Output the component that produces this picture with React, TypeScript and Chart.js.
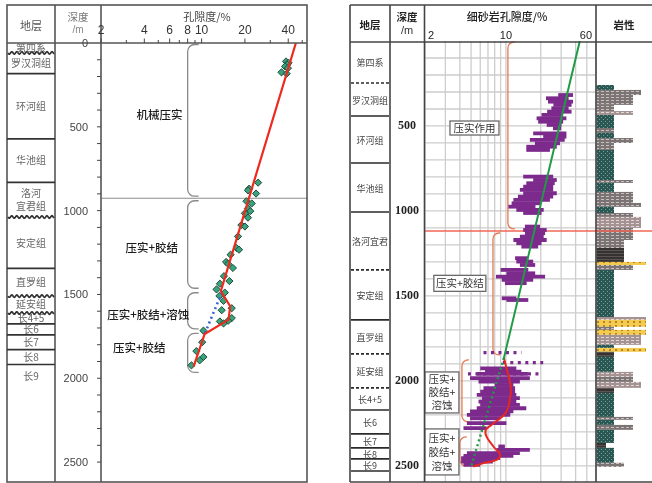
import React, { useEffect, useRef } from 'react';
import { Chart, registerables } from 'chart.js';

Chart.register(...registerables);

const CJK = '"Noto Sans CJK SC", "Noto Sans", sans-serif';
const SANS = '"Liberation Sans", Arial, sans-serif';
const SERIF = '"Liberation Serif", "Times New Roman", serif';

// ================= LEFT PANEL DATA =================
const leftFormationNames = ['第四系', '罗汉洞组', '环河组', '华池组', '洛河\n宜君组', '安定组', '直罗组', '延安组', '长4+5', '长6', '长7', '长8', '长9'];
const leftFormationBase = [59, 183, 572, 832, 1038, 1345, 1510, 1611, 1676, 1741, 1829, 1918, 2595];
const leftBoundaryStyle = ['wavy', 'solid', 'solid', 'solid', 'wavy', 'solid', 'wavy', 'wavy', 'solid', 'solid', 'solid', 'solid', 'none'];
const leftPorTicks = [2, 3, 4, 5, 6, 7, 8, 9, 10, 20, 30, 40, 50];
const leftPorLabels = [2, 4, 6, 8, 10, 20, 40];
const leftDepthLabels = [0, 500, 1000, 1500, 2000, 2500];
const leftSampleDepth = [110, 118, 130, 140, 150, 175, 183, 833, 869, 879, 898, 944, 957, 987, 1003, 1016, 1042, 1086, 1095, 1154, 1223, 1233, 1263, 1306, 1318, 1342, 1391, 1420, 1436, 1470, 1489, 1509, 1538, 1582, 1594, 1641, 1657, 1661, 1673, 1716, 1785, 1838, 1873, 1893, 1923];
const leftSamplePor = [38.6, 40.2, 39.4, 38.0, 39.8, 35.9, 39.0, 24.7, 21.4, 21.0, 23.9, 20.5, 22.3, 21.0, 21.8, 20.0, 21.0, 18.9, 20.0, 17.9, 17.5, 18.2, 15.9, 14.8, 15.3, 16.5, 14.3, 15.6, 13.4, 12.7, 14.5, 13.3, 14.2, 16.2, 13.8, 16.2, 15.3, 13.4, 14.2, 10.3, 10.1, 9.2, 10.3, 9.7, 8.5];
const leftTrendDepth = [0, 1480, 1570, 1650, 1736, 1930];
const leftTrendPor = [45.2, 13.6, 15.8, 15.4, 10.5, 8.8];
const leftCompactDepth = [1490, 1736];
const leftCompactPor = [13.8, 10.5];
const leftZoneTop = [0, 932, 1481, 1723];
const leftZoneBase = [920, 1469, 1711, 1971];
const leftZoneNames = ['机械压实', '压实+胶结', '压实+胶结+溶蚀', '压实+胶结'];
const leftDividerDepth = 926;

// ================= RIGHT PANEL DATA =================
const rightFormationNames = ['第四系', '罗汉洞组', '环河组', '华池组', '洛河宜君', '安定组', '直罗组', '延安组', '长4+5', '长6', '长7', '长8', '长9'];
const rightFormationBase = [247, 441, 718, 1006, 1347, 1641, 1841, 2041, 2171, 2312, 2394, 2459, 2530];
const rightBoundaryStyle = ['dashed', 'solid', 'solid', 'solid', 'dashed', 'solid', 'dashed', 'dashed', 'solid', 'solid', 'solid', 'solid', 'solid'];
const rightGridPor = [2, 3, 4, 5, 6, 7, 8, 9, 10, 20, 30, 40, 50, 60];
const rightPorLabels = [2, 10, 60];
const rightDepthLabels = [500, 1000, 1500, 2000, 2500];

const sandDepth = [318, 337, 357, 376, 396, 416, 435, 455, 475, 494, 514, 543, 563, 582, 602, 622, 641,
  798, 818, 837, 857, 876, 896, 916, 935, 955, 975, 994, 1012,
  1092, 1112, 1131, 1151, 1171, 1190, 1210,
  1278, 1298, 1318, 1347, 1367, 1386, 1406, 1425, 1514, 1524,
  1926, 1945, 1959, 1984, 2004, 2024, 2043, 2063, 2082, 2102, 2122, 2141, 2161, 2180, 2200, 2220, 2249, 2278,
  2386, 2406, 2425, 2441, 2455, 2475, 2494];
const sandMin = [28.3, 22.2, 23.1, 25.7, 24.7, 22.7, 20.3, 18.4, 19.0, 22.5, 25.5, 17.2, 21.0, 16.1, 17.8, 15.0, 15.0,
  14.1, 17.2, 15.0, 14.1, 13.2, 14.1, 12.7, 11.6, 11.2, 10.5, 12.3, 14.1,
  14.6, 14.1, 14.6, 13.2, 11.6, 12.3, 13.6,
  12.0, 12.3, 13.2, 9.0, 10.1, 8.2, 9.2, 9.8, 9.2, 10.1,
  6.0, 6.6, 5.6, 4.9, 5.8, 8.0, 6.4, 6.0, 5.6, 6.2, 5.8, 6.0, 5.6, 4.9, 4.6, 4.9, 4.6, 4.3,
  8.6, 8.3, 4.6, 4.3, 4.1, 4.1, 4.3];
const sandMax = [38.0, 34.8, 38.0, 36.9, 34.8, 36.9, 31.2, 33.3, 31.2, 30.2, 30.0, 33.3, 33.3, 32.2, 29.3, 27.5, 24.0,
  25.6, 27.5, 26.4, 25.6, 25.6, 27.5, 25.6, 24.0, 19.7, 18.0, 21.2, 20.3,
  19.7, 22.5, 21.8, 21.2, 22.5, 20.3, 19.0,
  15.6, 17.2, 17.9, 15.6, 17.9, 21.8, 17.2, 15.1, 12.3, 15.6,
  12.3, 13.6, 15.5, 16.1, 13.2, 11.6, 12.0, 12.0, 12.3, 13.2, 12.3, 13.2, 15.0, 11.6, 10.9, 8.9, 10.1, 6.8,
  9.8, 16.1, 13.2, 11.6, 8.9, 7.7, 6.0];
const sandDotDepth = [1834, 1892, 1959];
const sandDotMin = [6.4, 9.4, 4.7];
const sandDotMax = [13.6, 21.0, 19.7];

const greenDepth = [0, 1866];
const greenPor = [43.5, 9.6];
const greenDotDepth = [1866, 2504];
const greenDotPor = [9.6, 5.0];
const redDepth = [1866, 1945, 2034, 2112, 2190, 2259, 2288, 2328, 2386, 2435, 2465, 2484, 2504];
const redPor = [9.6, 10.3, 11.0, 10.8, 9.9, 7.5, 6.7, 6.8, 7.8, 8.9, 8.3, 6.4, 5.2];
const rightBoundaryDepth = 1118;
const rightZoneTop = [0, 1124, 1871, 2324];
const rightZoneBase = [1106, 1847, 2241, 2500];
const rightZonePor = [10.4, 7.73, 4.17, 4.0];

// lithology column
const lithoTop = [259, 288, 318, 376, 412, 435, 512, 541, 571, 600, 641, 818, 835, 888, 953, 976, 1012, 1035, 1100, 1124, 1171, 1218, 1300, 1318, 1347, 1624, 1641, 1682, 1700, 1729, 1788, 1806, 1829, 1859, 1947, 1976, 2006, 2041, 2071, 2212, 2229, 2259, 2288, 2365, 2394, 2482];
const lithoBase = [288, 318, 376, 412, 435, 512, 541, 571, 600, 641, 818, 835, 888, 953, 976, 1012, 1035, 1100, 1124, 1171, 1218, 1300, 1318, 1347, 1624, 1641, 1682, 1700, 1729, 1788, 1806, 1829, 1859, 1947, 1976, 2006, 2041, 2071, 2212, 2229, 2259, 2288, 2365, 2394, 2482, 2506];
const lithoType = ['sand', 'mud', 'mud', 'mud', 'silt', 'sand', 'mud', 'sand', 'mud', 'mud', 'sand', 'mud', 'sand', 'mud', 'mud', 'sand', 'mud', 'silt', 'mud', 'mud', 'mud', 'dark', 'coal', 'mud', 'sand', 'silt', 'coal', 'mud', 'coal', 'silt', 'sand', 'coal', 'dark', 'sand', 'silt', 'mud', 'silt', 'dark', 'sand', 'mud', 'sand', 'mud', 'sand', 'dark', 'sand', 'mud'];
const lithoWidth = [18, 45, 37, 18, 37, 18, 18, 18, 37, 18, 18, 37, 18, 37, 45, 18, 37, 45, 37, 37, 28, 28, 50, 37, 18, 50, 50, 18, 50, 45, 18, 50, 18, 18, 37, 37, 45, 18, 18, 37, 18, 37, 18, 10, 18, 28];

const PURPLE = '#7d2a8d';
const DEPTH_MAX = 2595;

// ================= helpers =================
function seg(ctx: any, x1: number, y1: number, x2: number, y2: number) {
  ctx.beginPath(); ctx.moveTo(x1, y1); ctx.lineTo(x2, y2); ctx.stroke();
}
function wavy(ctx: any, x1: number, x2: number, y: number) {
  ctx.beginPath();
  for (let x = x1; x <= x2; x += 0.5) {
    const yy = y + 1.2 * Math.sin((x - x1) * 1.25);
    if (x === x1) ctx.moveTo(x, yy); else ctx.lineTo(x, yy);
  }
  ctx.stroke();
}
function bracket(ctx: any, x: number, y1: number, y2: number, ext: number, r: number) {
  ctx.beginPath();
  ctx.moveTo(x + ext, y1);
  ctx.arcTo(x, y1, x, y1 + r, r);
  ctx.lineTo(x, y2 - r);
  ctx.arcTo(x, y2, x + ext, y2, r);
  ctx.lineTo(x + ext, y2);
  ctx.stroke();
}
function txt(ctx: any, s: string, x: number, y: number, font: string, color: string, align = 'center') {
  ctx.font = font; ctx.fillStyle = color; ctx.textAlign = align; ctx.textBaseline = 'middle';
  ctx.fillText(s, x, y);
}
function textBox(ctx: any, cx: number, cy: number, w: number, h: number, lines: string[], lh: number) {
  ctx.fillStyle = '#ffffff';
  ctx.fillRect(cx - w / 2, cy - h / 2, w, h);
  ctx.strokeStyle = '#6a6a6a'; ctx.lineWidth = 1.3;
  ctx.strokeRect(cx - w / 2, cy - h / 2, w, h);
  lines.forEach((l, i) => txt(ctx, l, cx, cy + (i - (lines.length - 1) / 2) * lh, `10.5px ${CJK}`, '#333'));
}

// ================= LEFT CHART =================
const leftDecor = {
  id: 'leftDecor',
  beforeDatasetsDraw(chart: any) {
    const { ctx, chartArea: ca } = chart;
    const xs = chart.scales.x, ys = chart.scales.y;
    ctx.save();
    ctx.strokeStyle = '#8d8d8d'; ctx.lineWidth = 1.2;
    const yd = ys.getPixelForValue(leftDividerDepth);
    seg(ctx, ca.left, yd, ca.right, yd);
    const bx = xs.getPixelForValue(8.0);
    ctx.strokeStyle = '#8a8a8a'; ctx.lineWidth = 1.3;
    leftZoneTop.forEach((t, i) => bracket(ctx, bx, ys.getPixelForValue(t) + 1.5, ys.getPixelForValue(leftZoneBase[i]) - 1, 11, 7));
    const lp = [[5.1, 426], [4.5, 1219], [4.26, 1618], [3.69, 1815]];
    leftZoneNames.forEach((n, i) => txt(ctx, n, xs.getPixelForValue(lp[i][0]), ys.getPixelForValue(lp[i][1]), `500 11.5px ${CJK}`, '#1c1c1c'));
    ctx.restore();
  },
  afterDraw(chart: any) {
    const { ctx } = chart;
    const xs = chart.scales.x, ys = chart.scales.y;
    ctx.save();
    // frame
    ctx.strokeStyle = '#555'; ctx.lineWidth = 1.6;
    ctx.strokeRect(7, 5, 300, 477);
    seg(ctx, 55, 5, 55, 482);
    seg(ctx, 101, 5, 101, 482);
    seg(ctx, 7, 43, 307, 43);
    // header
    txt(ctx, '地层', 31, 26, `11px ${CJK}`, '#555');
    txt(ctx, '深度', 78, 17, `10.5px ${CJK}`, '#777');
    txt(ctx, '/m', 78, 30, `10px ${SANS}`, '#888');
    txt(ctx, '孔隙度/%', 207, 17, `11px ${CJK}`, '#444');
    // x ticks
    ctx.strokeStyle = '#444'; ctx.lineWidth = 1;
    leftPorTicks.forEach((v) => {
      const px = xs.getPixelForValue(v);
      seg(ctx, px, 43, px, leftPorLabels.includes(v) ? 38.5 : 40);
    });
    leftPorLabels.forEach((v) => txt(ctx, String(v), xs.getPixelForValue(v), 31, `12px ${SANS}`, '#333'));
    // depth ticks & labels
    for (let d = 100; d <= 2500; d += 100) {
      const py = ys.getPixelForValue(d);
      seg(ctx, 97, py, 101, py);
    }
    leftDepthLabels.forEach((d) => txt(ctx, String(d), 88, ys.getPixelForValue(d) + 1, `11px ${SANS}`, '#444', 'right'));
    // formations
    let top = 0;
    leftFormationNames.forEach((name, i) => {
      const base = leftFormationBase[i];
      const y1 = ys.getPixelForValue(top), y2 = ys.getPixelForValue(base);
      ctx.strokeStyle = '#333'; ctx.lineWidth = 1.7;
      if (leftBoundaryStyle[i] === 'solid') seg(ctx, 7, y2, 55, y2);
      else if (leftBoundaryStyle[i] === 'wavy') wavy(ctx, 8, 54, y2);
      const ym = i === leftFormationNames.length - 1 ? y1 + 12 : (y1 + y2) / 2;
      const parts = name.split('\n');
      parts.forEach((p, k) => txt(ctx, p, 31, ym + (k - (parts.length - 1) / 2) * 13, `10px ${CJK}`, '#666'));
      top = base;
    });
    ctx.restore();
  },
};

function makeLeft(canvas: HTMLCanvasElement) {
  return new Chart(canvas, {
    type: 'scatter',
    data: {
      datasets: [
        {
          label: '趋势线', data: leftTrendDepth.map((d, i) => ({ x: leftTrendPor[i], y: d })),
          showLine: true, borderColor: '#ee2a1f', borderWidth: 2.2, pointRadius: 0, order: 1,
        },
        {
          label: '压实趋势', data: leftCompactDepth.map((d, i) => ({ x: leftCompactPor[i], y: d })),
          showLine: true, borderColor: '#3f62d0', borderWidth: 2.6, borderDash: [2, 3.2], pointRadius: 0, order: 2,
        },
        {
          label: '孔隙度', data: leftSampleDepth.map((d, i) => ({ x: leftSamplePor[i], y: d })),
          pointStyle: 'rectRot', pointRadius: 3.6, backgroundColor: '#37a47c', borderColor: '#214b3c', borderWidth: 1, order: 3,
        },
      ],
    } as any,
    options: {
      animation: false, responsive: false, maintainAspectRatio: false, events: [],
      layout: { padding: { left: 101, right: 5, top: 43, bottom: 1 } },
      scales: {
        x: { type: 'logarithmic', min: 2, max: 54, bounds: 'data', display: false },
        y: { type: 'linear', reverse: true, min: 0, max: DEPTH_MAX, bounds: 'data', display: false },
      },
      plugins: { legend: { display: false }, tooltip: { enabled: false } },
    } as any,
    plugins: [leftDecor],
  });
}

// ================= RIGHT CHART =================
const ROX = 330;
const rightDecor = {
  id: 'rightDecor',
  beforeDatasetsDraw(chart: any) {
    const { ctx, chartArea: ca, width } = chart;
    const xs = chart.scales.x, ys = chart.scales.y;
    ctx.save();
    // grid
    ctx.strokeStyle = '#cdcdcd'; ctx.lineWidth = 1.3;
    rightGridPor.forEach((v) => { const px = xs.getPixelForValue(v); seg(ctx, px, ca.top, px, ca.bottom); });
    for (let d = 100; d <= 2500; d += 100) { const py = ys.getPixelForValue(d); seg(ctx, ca.left, py, ca.right, py); }
    // boundary line
    ctx.strokeStyle = '#f06656'; ctx.lineWidth = 1.5;
    const yb = ys.getPixelForValue(rightBoundaryDepth);
    seg(ctx, ca.left, yb, width, yb);
    // brackets
    ctx.strokeStyle = '#e8784f'; ctx.lineWidth = 1.3;
    rightZoneTop.forEach((t, i) => bracket(ctx, xs.getPixelForValue(rightZonePor[i]), ys.getPixelForValue(t) + 1, ys.getPixelForValue(rightZoneBase[i]), 7, 6));
    // text boxes
    textBox(ctx, xs.getPixelForValue(5.35), ys.getPixelForValue(512), 49, 14, ['压实作用'], 13);
    textBox(ctx, xs.getPixelForValue(4.0), ys.getPixelForValue(1426), 52, 16, ['压实+胶结'], 13);
    textBox(ctx, xs.getPixelForValue(2.8), ys.getPixelForValue(2068), 34, 41, ['压实+', '胶结+', '溶蚀'], 13);
    textBox(ctx, xs.getPixelForValue(2.8), ys.getPixelForValue(2418), 34, 46, ['压实+', '胶结+', '溶蚀'], 14);
    ctx.restore();
  },
  afterDraw(chart: any) {
    const { ctx, width } = chart;
    const xs = chart.scales.x, ys = chart.scales.y;
    const X = (v: number) => v - ROX;
    ctx.save();
    ctx.strokeStyle = '#444'; ctx.lineWidth = 1.6;
    seg(ctx, X(350), 5, width, 5);
    seg(ctx, X(350), 482, width, 482);
    seg(ctx, X(350), 42, width, 42);
    [350, 390, 424.5, 596].forEach((x) => seg(ctx, X(x), 5, X(x), 482));
    // headers
    txt(ctx, '地层', X(370), 25, `bold 10.5px ${CJK}`, '#222');
    txt(ctx, '深度', X(407), 17, `bold 10.5px ${CJK}`, '#222');
    txt(ctx, '/m', X(407), 31, `11px ${SANS}`, '#333');
    txt(ctx, '细砂岩孔隙度/%', X(507), 17, `500 11px ${CJK}`, '#222');
    txt(ctx, '岩性', X(624), 25, `bold 10.5px ${CJK}`, '#222');
    rightPorLabels.forEach((v, i) => {
      const px = xs.getPixelForValue(v);
      const al = i === 0 ? 'left' : i === rightPorLabels.length - 1 ? 'right' : 'center';
      const ox = i === 0 ? 3 : i === rightPorLabels.length - 1 ? -4 : 0;
      txt(ctx, String(v), px + ox, 36, `11px ${SANS}`, '#222', al);
    });
    rightDepthLabels.forEach((d) => txt(ctx, String(d), X(407), ys.getPixelForValue(d), `bold 12px ${SERIF}`, '#222'));
    // formations
    let top = 0;
    rightFormationNames.forEach((name, i) => {
      const base = rightFormationBase[i];
      const y1 = ys.getPixelForValue(top), y2 = ys.getPixelForValue(base);
      ctx.strokeStyle = '#2a2a2a'; ctx.lineWidth = 1.6;
      if (rightBoundaryStyle[i] === 'dashed') { ctx.setLineDash([3, 2]); seg(ctx, X(351), y2, X(389), y2); ctx.setLineDash([]); }
      else seg(ctx, X(351), y2, X(389), y2);
      txt(ctx, name, X(370), (y1 + y2) / 2 + 1, `9px ${CJK}`, '#444');
      top = base;
    });
    ctx.restore();
  },
};

function makeRight(canvas: HTMLCanvasElement) {
  const lineSets: any[] = [
    {
      label: '正常压实趋势', data: greenDepth.map((d, i) => ({ x: greenPor[i], y: d })),
      showLine: true, borderColor: '#1f9a45', borderWidth: 2, pointRadius: 0, order: 0,
    },
    {
      label: '压实趋势延伸', data: greenDotDepth.map((d, i) => ({ x: greenDotPor[i], y: d })),
      showLine: true, borderColor: '#1f9a45', borderWidth: 2.4, borderDash: [2, 3], pointRadius: 0, order: 0,
    },
    {
      label: '实际趋势', data: redDepth.map((d, i) => ({ x: redPor[i], y: d })),
      showLine: true, borderColor: '#e8261f', borderWidth: 2, tension: 0.4, pointRadius: 0, order: 0,
    },
  ];
  const strips = sandDepth.map((d, i) => ({
    label: '细砂岩孔隙度', data: [{ x: sandMin[i], y: d }, { x: sandMax[i], y: d }],
    showLine: true, borderColor: PURPLE, borderWidth: 3.8, pointRadius: 0, order: 5,
  }));
  const dots = sandDotDepth.map((d, i) => ({
    label: '细砂岩孔隙度', data: [{ x: sandDotMin[i], y: d }, { x: sandDotMax[i], y: d }],
    showLine: true, borderColor: PURPLE, borderWidth: 3.2, borderDash: [3, 4.5], pointRadius: 0, order: 6,
  }));
  return new Chart(canvas, {
    type: 'scatter',
    data: { datasets: [...lineSets, ...strips, ...dots] } as any,
    options: {
      animation: false, responsive: false, maintainAspectRatio: false, events: [],
      layout: { padding: { left: 95, right: 56, top: 41, bottom: 1 } },
      scales: {
        x: { type: 'logarithmic', min: 2, max: 60, bounds: 'data', display: false },
        y: { type: 'linear', reverse: true, min: 0, max: DEPTH_MAX, bounds: 'data', display: false },
      },
      plugins: { legend: { display: false }, tooltip: { enabled: false } },
    } as any,
    plugins: [rightDecor],
  });
}

// ================= LITHOLOGY CHART =================
function makePattern(ctx: any, type: string) {
  const c = document.createElement('canvas');
  const g = c.getContext('2d')!;
  if (type === 'sand') {
    c.width = 4; c.height = 4;
    g.fillStyle = '#2c5652'; g.fillRect(0, 0, 4, 4);
    g.fillStyle = '#6aa39b'; g.fillRect(1, 1, 1, 1); g.fillRect(3, 3, 1, 1);
  } else if (type === 'mud') {
    c.width = 5; c.height = 3;
    g.fillStyle = '#7b7474'; g.fillRect(0, 0, 5, 3);
    g.fillStyle = '#cbbfbf'; g.fillRect(0, 1, 3, 1);
  } else if (type === 'silt') {
    c.width = 5; c.height = 3;
    g.fillStyle = '#a59393'; g.fillRect(0, 0, 5, 3);
    g.fillStyle = '#e2d8d8'; g.fillRect(0, 1, 3, 1);
  } else if (type === 'coal') {
    c.width = 6; c.height = 4;
    g.fillStyle = '#f3cb4e'; g.fillRect(0, 0, 6, 4);
    g.fillStyle = '#b9802c'; g.fillRect(1, 1, 2, 2);
  } else {
    c.width = 4; c.height = 3;
    g.fillStyle = '#363232'; g.fillRect(0, 0, 4, 3);
    g.fillStyle = '#5a5454'; g.fillRect(0, 1, 4, 1);
  }
  return ctx.createPattern(c, 'repeat');
}

const lithoDecor = {
  id: 'lithoDecor',
  beforeDatasetsDraw(chart: any) {
    const { ctx } = chart;
    const xs = chart.scales.x, ys = chart.scales.y;
    ctx.save();
    const pats: any = {};
    ['sand', 'mud', 'silt', 'coal', 'dark'].forEach((t) => (pats[t] = makePattern(ctx, t)));
    lithoTop.forEach((t, i) => {
      const y1 = ys.getPixelForValue(t), y2 = ys.getPixelForValue(lithoBase[i]);
      const x1 = xs.getPixelForValue(0), x2 = xs.getPixelForValue(lithoWidth[i]);
      ctx.fillStyle = pats[lithoType[i]];
      ctx.fillRect(x1, y1, x2 - x1, y2 - y1);
    });
    ctx.restore();
  },
};

function makeLitho(canvas: HTMLCanvasElement) {
  return new Chart(canvas, {
    type: 'scatter',
    data: { datasets: [] },
    options: {
      animation: false, responsive: false, maintainAspectRatio: false, events: [],
      layout: { padding: { left: 0, right: 0, top: 41, bottom: 1 } },
      scales: {
        x: { type: 'linear', min: 0, max: 56, bounds: 'data', display: false },
        y: { type: 'linear', reverse: true, min: 0, max: DEPTH_MAX, bounds: 'data', display: false },
      },
      plugins: { legend: { display: false }, tooltip: { enabled: false } },
    } as any,
    plugins: [lithoDecor],
  });
}

export default function App() {
  const leftRef = useRef<HTMLCanvasElement>(null);
  const rightRef = useRef<HTMLCanvasElement>(null);
  const lithoRef = useRef<HTMLCanvasElement>(null);
  useEffect(() => {
    const charts = [makeLeft(leftRef.current!), makeLitho(lithoRef.current!), makeRight(rightRef.current!)];
    return () => charts.forEach((c) => c.destroy());
  }, []);
  return (
    <div style={{ position: 'absolute', left: 0, top: 0, width: 652, height: 483, background: '#fff', overflow: 'hidden' }}>
      <canvas ref={leftRef} width={312} height={483} style={{ position: 'absolute', left: 0, top: 0, width: 312, height: 483 }} />
      <canvas ref={lithoRef} width={56} height={483} style={{ position: 'absolute', left: 596, top: 0, width: 56, height: 483 }} />
      <canvas ref={rightRef} width={322} height={483} style={{ position: 'absolute', left: 330, top: 0, width: 322, height: 483 }} />
    </div>
  );
}
